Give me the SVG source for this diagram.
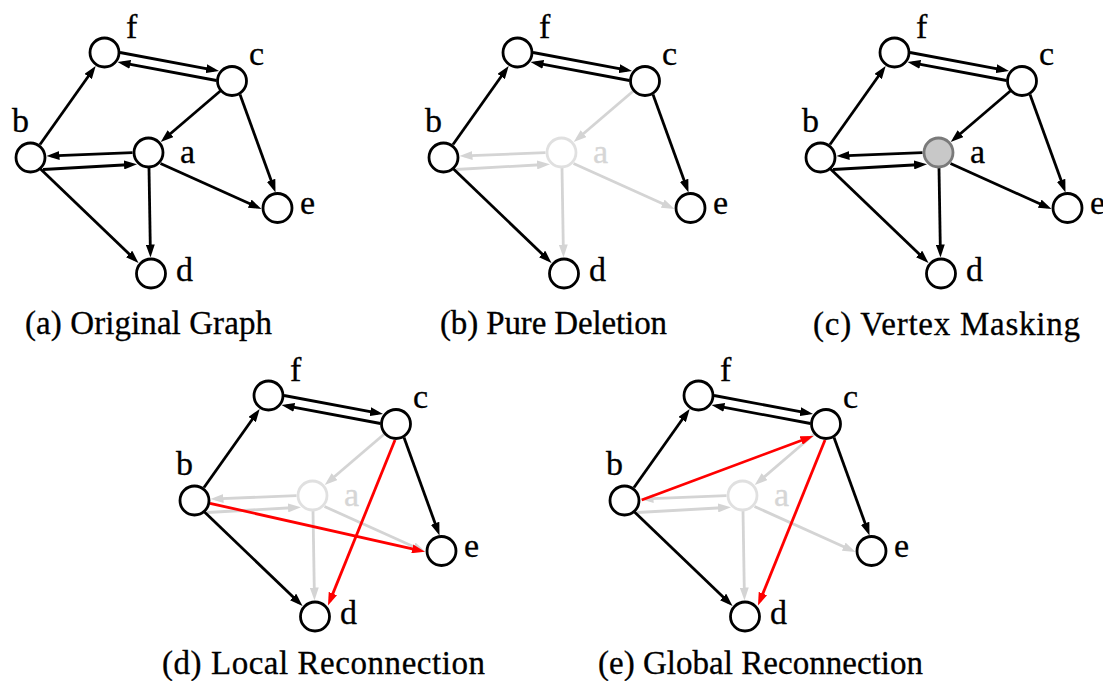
<svg xmlns="http://www.w3.org/2000/svg" width="1103" height="681" viewBox="0 0 1103 681">
<style>
.e{fill:none;stroke-width:2.8}
.k{stroke:#000;marker-end:url(#ak)}
.g{stroke:#d4d4d4;marker-end:url(#ag)}
.r{stroke:#ff0000;marker-end:url(#ar)}
.n{fill:#fff;stroke:#000;stroke-width:2.8}
.ng{fill:#fff;stroke:#e0e0e0;stroke-width:2.8}
.nm{fill:#c8c8c8;stroke:#7a7a7a;stroke-width:2.8}
.l{font-family:"Liberation Serif","Times New Roman",serif;font-size:34px;fill:#000;stroke:#000;stroke-width:0.3}
.lg{fill:#d6d6d6;stroke:#d6d6d6}
.cap{font-family:"Liberation Serif","Times New Roman",serif;font-size:33px;fill:#000;stroke:#000;stroke-width:0.3}
</style>
<defs>
<marker id="ak" markerUnits="userSpaceOnUse" markerWidth="13" markerHeight="9" viewBox="0 0 13 9" refX="8" refY="4.5" orient="auto"><path d="M0,0 L13,4.5 L0,9 z" fill="#000"/></marker>
<marker id="ag" markerUnits="userSpaceOnUse" markerWidth="13" markerHeight="9" viewBox="0 0 13 9" refX="8" refY="4.5" orient="auto"><path d="M0,0 L13,4.5 L0,9 z" fill="#d4d4d4"/></marker>
<marker id="ar" markerUnits="userSpaceOnUse" markerWidth="13" markerHeight="9" viewBox="0 0 13 9" refX="8" refY="4.5" orient="auto"><path d="M0,0 L13,4.5 L0,9 z" fill="#ff0000"/></marker>
</defs>

<!-- Panel (a) -->
<g id="panel-a">
<g id="a-edges">
<path class="e k" d="M40,144.5 L92.8,70"/>
<path class="e k" d="M120,52.5 L214.1,70.1"/>
<path class="e k" d="M216.5,80.5 L122.4,62.9"/>
<path class="e k" d="M220.6,90.8 L164.5,138.8"/>
<path class="e k" d="M240,94.5 L273.8,187.8"/>
<path class="e k" d="M132.5,152.7 L51.5,155.8"/>
<path class="e k" d="M43,169.5 L132,164.5"/>
<path class="e k" d="M160.5,163.5 L257,207"/>
<path class="e k" d="M149,168 L150.4,252.5"/>
<path class="e k" d="M40,168.5 L134.9,259.5"/>
</g>
<g id="a-f"><circle class="n" cx="104.5" cy="52.5" r="14.5"/><text class="l" x="126" y="38">f</text></g>
<g id="a-c"><circle class="n" cx="232" cy="81" r="14.5"/><text class="l" x="249" y="65">c</text></g>
<g id="a-b"><circle class="n" cx="30.5" cy="157.5" r="14.5"/><text class="l" x="12" y="132">b</text></g>
<g id="a-a"><circle class="n" cx="148.5" cy="152.5" r="14.5"/><text class="l" x="180" y="163">a</text></g>
<g id="a-e"><circle class="n" cx="277.5" cy="208" r="14.5"/><text class="l" x="300" y="214">e</text></g>
<g id="a-d"><circle class="n" cx="151" cy="273.5" r="14.5"/><text class="l" x="176" y="281">d</text></g>
</g>
<text class="cap" x="25" y="334" textLength="247" lengthAdjust="spacing">(a) Original Graph</text>

<!-- Panel (b) -->
<g id="panel-b" transform="translate(413,0)">
<g id="b-edges">
<path class="e g" d="M220.6,90.8 L164.5,138.8"/>
<path class="e g" d="M132.5,152.7 L51.5,155.8"/>
<path class="e g" d="M43,169.5 L132,164.5"/>
<path class="e g" d="M160.5,163.5 L257,207"/>
<path class="e g" d="M149,168 L150.4,252.5"/>
<path class="e k" d="M40,144.5 L92.8,70"/>
<path class="e k" d="M120,52.5 L214.1,70.1"/>
<path class="e k" d="M216.5,80.5 L122.4,62.9"/>
<path class="e k" d="M240,94.5 L273.8,187.8"/>
<path class="e k" d="M40,168.5 L134.9,259.5"/>
</g>
<g id="b-f"><circle class="n" cx="104.5" cy="52.5" r="14.5"/><text class="l" x="126" y="38">f</text></g>
<g id="b-c"><circle class="n" cx="232" cy="81" r="14.5"/><text class="l" x="249" y="65">c</text></g>
<g id="b-b"><circle class="n" cx="30.5" cy="157.5" r="14.5"/><text class="l" x="12" y="132">b</text></g>
<g id="b-a"><circle class="ng" cx="148.5" cy="152.5" r="14.5"/><text class="l lg" x="180" y="163">a</text></g>
<g id="b-e"><circle class="n" cx="277.5" cy="208" r="14.5"/><text class="l" x="300" y="214">e</text></g>
<g id="b-d"><circle class="n" cx="151" cy="273.5" r="14.5"/><text class="l" x="176" y="281">d</text></g>
</g>
<text class="cap" x="440" y="334" textLength="227" lengthAdjust="spacing">(b) Pure Deletion</text>

<!-- Panel (c) -->
<g id="panel-c" transform="translate(790,0)">
<g id="c-edges">
<path class="e k" d="M40,144.5 L92.8,70"/>
<path class="e k" d="M120,52.5 L214.1,70.1"/>
<path class="e k" d="M216.5,80.5 L122.4,62.9"/>
<path class="e k" d="M220.6,90.8 L164.5,138.8"/>
<path class="e k" d="M240,94.5 L273.8,187.8"/>
<path class="e k" d="M132.5,152.7 L51.5,155.8"/>
<path class="e k" d="M43,169.5 L132,164.5"/>
<path class="e k" d="M160.5,163.5 L257,207"/>
<path class="e k" d="M149,168 L150.4,252.5"/>
<path class="e k" d="M40,168.5 L134.9,259.5"/>
</g>
<g id="c-f"><circle class="n" cx="104.5" cy="52.5" r="14.5"/><text class="l" x="126" y="38">f</text></g>
<g id="c-c"><circle class="n" cx="232" cy="81" r="14.5"/><text class="l" x="249" y="65">c</text></g>
<g id="c-b"><circle class="n" cx="30.5" cy="157.5" r="14.5"/><text class="l" x="12" y="132">b</text></g>
<g id="c-a"><circle class="nm" cx="148.5" cy="152.5" r="14.5"/><text class="l" x="180" y="163">a</text></g>
<g id="c-e"><circle class="n" cx="277.5" cy="208" r="14.5"/><text class="l" x="300" y="214">e</text></g>
<g id="c-d"><circle class="n" cx="151" cy="273.5" r="14.5"/><text class="l" x="176" y="281">d</text></g>
</g>
<text class="cap" x="813" y="335" textLength="267" lengthAdjust="spacing">(c) Vertex Masking</text>

<!-- Panel (d) -->
<g id="panel-d" transform="translate(164,343)">
<g id="d-edges">
<path class="e g" d="M220.6,90.8 L164.5,138.8"/>
<path class="e g" d="M132.5,152.7 L51.5,155.8"/>
<path class="e g" d="M43,169.5 L132,164.5"/>
<path class="e g" d="M160.5,163.5 L257,207"/>
<path class="e g" d="M149,168 L150.4,252.5"/>
<path class="e k" d="M40,144.5 L92.8,70"/>
<path class="e k" d="M120,52.5 L214.1,70.1"/>
<path class="e k" d="M216.5,80.5 L122.4,62.9"/>
<path class="e k" d="M240,94.5 L273.8,187.8"/>
<path class="e k" d="M40,168.5 L134.9,259.5"/>
<path class="e r" d="M46,160.3 L256.1,207.6"/>
<path class="e r" d="M231,97 L165.9,257.9"/>
</g>
<g id="d-f"><circle class="n" cx="104.5" cy="52.5" r="14.5"/><text class="l" x="126" y="38">f</text></g>
<g id="d-c"><circle class="n" cx="232" cy="81" r="14.5"/><text class="l" x="249" y="65">c</text></g>
<g id="d-b"><circle class="n" cx="30.5" cy="157.5" r="14.5"/><text class="l" x="12" y="132">b</text></g>
<g id="d-a"><circle class="ng" cx="148.5" cy="152.5" r="14.5"/><text class="l lg" x="180" y="163">a</text></g>
<g id="d-e"><circle class="n" cx="277.5" cy="208" r="14.5"/><text class="l" x="300" y="214">e</text></g>
<g id="d-d"><circle class="n" cx="151" cy="273.5" r="14.5"/><text class="l" x="176" y="281">d</text></g>
</g>
<text class="cap" x="162" y="674" textLength="323" lengthAdjust="spacing">(d) Local Reconnection</text>

<!-- Panel (e) -->
<g id="panel-e" transform="translate(594,343)">
<g id="e-edges">
<path class="e g" d="M220.6,90.8 L164.5,138.8"/>
<path class="e g" d="M132.5,152.7 L51.5,155.8"/>
<path class="e g" d="M43,169.5 L132,164.5"/>
<path class="e g" d="M160.5,163.5 L257,207"/>
<path class="e g" d="M149,168 L150.4,252.5"/>
<path class="e k" d="M40,144.5 L92.8,70"/>
<path class="e k" d="M120,52.5 L214.1,70.1"/>
<path class="e k" d="M216.5,80.5 L122.4,62.9"/>
<path class="e k" d="M240,94.5 L273.8,187.8"/>
<path class="e k" d="M40,168.5 L134.9,259.5"/>
<path class="e r" d="M47.7,157 L214.7,94.7"/>
<path class="e r" d="M231,97 L165.9,257.9"/>
</g>
<g id="e-f"><circle class="n" cx="104.5" cy="52.5" r="14.5"/><text class="l" x="126" y="38">f</text></g>
<g id="e-c"><circle class="n" cx="232" cy="81" r="14.5"/><text class="l" x="249" y="65">c</text></g>
<g id="e-b"><circle class="n" cx="30.5" cy="157.5" r="14.5"/><text class="l" x="12" y="132">b</text></g>
<g id="e-a"><circle class="ng" cx="148.5" cy="152.5" r="14.5"/><text class="l lg" x="180" y="163">a</text></g>
<g id="e-e"><circle class="n" cx="277.5" cy="208" r="14.5"/><text class="l" x="300" y="214">e</text></g>
<g id="e-d"><circle class="n" cx="151" cy="273.5" r="14.5"/><text class="l" x="176" y="281">d</text></g>
</g>
<text class="cap" x="598" y="674" textLength="325" lengthAdjust="spacing">(e) Global Reconnection</text>
</svg>
